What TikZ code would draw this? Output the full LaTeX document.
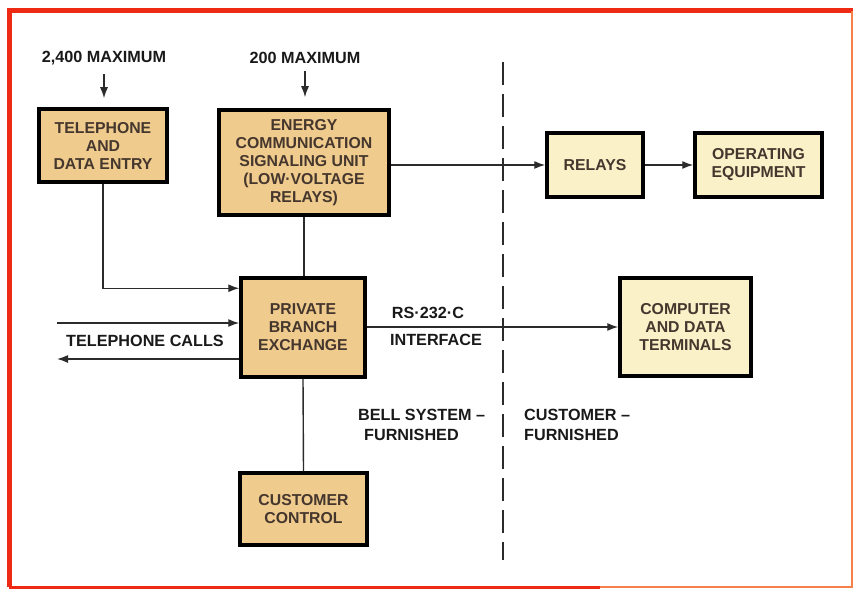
\documentclass[tikz,border=0pt]{standalone}
\usepackage{fontspec}
\setmainfont{Liberation Sans}
\usetikzlibrary{arrows.meta}
\definecolor{frameline}{HTML}{EE2A14}
\definecolor{frameedge}{HTML}{F5804A}
\definecolor{tanfill}{HTML}{EFCB8E}
\definecolor{palefill}{HTML}{FAF1C9}
\definecolor{boxtext}{HTML}{45372D}
\definecolor{inkline}{HTML}{2B2B2B}

\tikzset{
  unitbox/.style={draw=black,line width=3.5pt,fill=tanfill,text=boxtext,align=center,
    font=\fontsize{15.8}{18}\selectfont\bfseries,inner sep=0pt},
  farbox/.style={unitbox,fill=palefill},
  caption/.style={text=black!90,font=\fontsize{16.2}{20}\selectfont\bfseries,inner sep=2pt},
  link/.style={inkline,line width=1.4pt},
  arr/.style={link,-{Latex[length=11pt,width=8pt]}},
  divider/.style={inkline,line width=2.4pt,dash pattern=on 23pt off 9pt}
}

\begin{document}
\begin{tikzpicture}[x=1pt,y=-1pt]
\useasboundingbox (0,0) rectangle (853,591);
% frame
\draw[frameline,line width=5pt] (9,587) -- (9,11) -- (853,11);
\draw[frameline,line width=3pt] (9,587) -- (600,587);
\draw[frameedge,line width=2pt] (600,587) -- (852,587) -- (852,11);
% bell system side
\node[unitbox,minimum width=128pt,minimum height=73pt] (entry) at (103,145.5) {TELEPHONE\\AND\\DATA ENTRY};
\node[unitbox,minimum width=170pt,minimum height=105pt] (ecsu) at (304,162.5) {ENERGY\\COMMUNICATION\\SIGNALING UNIT\\(LOW·VOLTAGE\\RELAYS)};
\node[unitbox,minimum width=124pt,minimum height=99pt] (pbx) at (303,327.5) {PRIVATE\\BRANCH\\EXCHANGE};
\node[unitbox,minimum width=127pt,minimum height=72pt] (ctrl) at (303.5,509) {CUSTOMER\\CONTROL};
% customer side
\node[farbox,minimum width=96pt,minimum height=64pt] (relays) at (595,165) {RELAYS};
\node[farbox,minimum width=127pt,minimum height=64pt] (equip) at (758.5,165) {OPERATING\\EQUIPMENT};
\node[farbox,minimum width=131pt,minimum height=98pt] (terms) at (685.5,327) {COMPUTER\\AND DATA\\TERMINALS};
% labels
\node[caption] (max1) at (104,58) {2,400 MAXIMUM};
\node[caption] (max2) at (305,58) {200 MAXIMUM};
\node[caption] (calls) at (145,341) {TELEPHONE CALLS};
\node[caption] (rs) at (428,313) {RS·232·C};
\node[caption] (iface) at (436,340) {INTERFACE};
\node[caption,align=left,anchor=west] (bell) at (356,425) {BELL SYSTEM –\\\hspace*{6pt}FURNISHED};
\node[caption,align=left,anchor=west] (cust) at (522,425) {CUSTOMER –\\FURNISHED};
% divider
\draw[divider] (503,62) -- (503,560);
% connectors
\coordinate (callin) at (57,323);
\coordinate (callout) at (57,359);
\draw[arr,shorten <=7pt,shorten >=9pt] (max1.south) -- (max1.south |- entry.north);
\draw[arr,shorten <=5pt,shorten >=11pt] (max2.south) -- (max2.south |- ecsu.north);
\draw[arr] (ecsu.east |- relays.west) -- (relays.west);
\draw[arr] (relays) -- (equip);
\draw[link] (ecsu.south) -- (ecsu.south |- pbx.north);
\draw[arr] (entry.south) |- ([yshift=-12pt]pbx.north west);
\draw[arr] (callin) -- (callin -| pbx.west);
\draw[arr] (callout -| pbx.west) -- (callout);
\draw[arr] (pbx.east |- terms.west) -- (terms.west);
\draw[link] (pbx.south) -- (ctrl.north);
\end{tikzpicture}
\end{document}
